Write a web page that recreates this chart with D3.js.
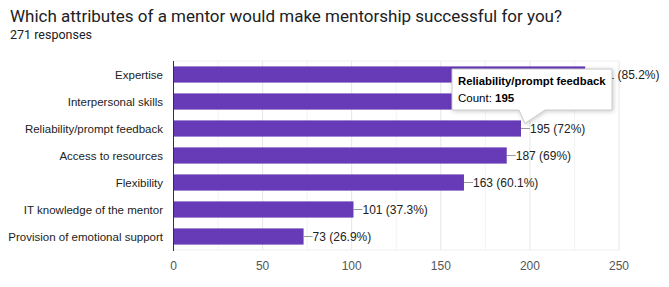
<!DOCTYPE html>
<html lang="en">
<head>
<meta charset="UTF-8">
<title>mentor attributes</title>
<style>
  body { margin: 0; background: #fff; }
  text { font-family: "Liberation Sans", Arial, sans-serif; }
  .title { font-family: Roboto, sans-serif; }
</style>
</head>
<body>
<svg id="chart" width="669" height="287"></svg>
<script src="https://cdn.jsdelivr.net/npm/d3@7"></script>
<script>
const categories = ["Expertise", "Interpersonal skills", "Reliability/prompt feedback",
  "Access to resources", "Flexibility", "IT knowledge of the mentor", "Provision of emotional support"];
const counts = [231, 200, 195, 187, 163, 101, 73];
const percents = ["85.2%", "73.8%", "72%", "69%", "60.1%", "37.3%", "26.9%"];
const xTicks = [0, 50, 100, 150, 200, 250];
const total = 271;

const svg = d3.select("#chart");

svg.append("text").attr("class", "title").attr("x", 10).attr("y", 22)
  .attr("font-size", 17).attr("fill", "#202124")
  .text("Which attributes of a mentor would make mentorship successful for you?");
svg.append("text").attr("class", "title").attr("x", 10).attr("y", 39)
  .attr("font-size", 12.5).attr("fill", "#202124")
  .text(total + " responses");

const x = d3.scaleLinear().domain([0, 250]).range([173.5, 619]);
const y = d3.scaleBand().domain(categories).range([61, 250])
  .paddingInner(0.4).paddingOuter(0.2);

// grid: minor every 25, major every 50
const grid = svg.append("g");
grid.selectAll("line.minor").data(d3.range(25, 250, 50)).join("line")
  .attr("x1", d => x(d)).attr("x2", d => x(d))
  .attr("y1", 61).attr("y2", 250).attr("stroke", "#f3f3f3");
grid.selectAll("line.major").data(xTicks.slice(1)).join("line")
  .attr("x1", d => x(d)).attr("x2", d => x(d))
  .attr("y1", 61).attr("y2", 250).attr("stroke", "#e6e6e6");
grid.append("line").attr("x1", x(0)).attr("x2", x(250))
  .attr("y1", 61).attr("y2", 61).attr("stroke", "#f0f0f0");
grid.append("line").attr("x1", x(0)).attr("x2", x(250))
  .attr("y1", 250).attr("y2", 250).attr("stroke", "#f0f0f0");

// bars
svg.selectAll("rect.bar").data(counts).join("rect")
  .attr("class", "bar")
  .attr("x", x(0))
  .attr("y", (d, i) => y(categories[i]))
  .attr("width", d => x(d) - x(0))
  .attr("height", y.bandwidth())
  .attr("fill", "#673ab7");

// axis line
svg.append("line").attr("x1", x(0)).attr("x2", x(0))
  .attr("y1", 61).attr("y2", 251).attr("stroke", "#333").attr("stroke-width", 1);

// category labels
svg.selectAll("text.cat").data(categories).join("text")
  .attr("x", 163).attr("y", d => y(d) + y.bandwidth() / 2 + 4)
  .attr("text-anchor", "end").attr("font-size", 11.5).attr("fill", "#222")
  .text(d => d);

// value labels
const lab = svg.append("g");
counts.forEach((d, i) => {
  const cy = y(categories[i]) + y.bandwidth() / 2;
  lab.append("line").attr("x1", x(d)).attr("x2", x(d) + 9)
    .attr("y1", cy).attr("y2", cy).attr("stroke", "#999");
  lab.append("text").attr("x", x(d) + 9).attr("y", cy + 4.5)
    .attr("font-size", 12).attr("fill", "#222")
    .text(d + " (" + percents[i] + ")");
});

// x tick labels
svg.selectAll("text.tick").data(xTicks).join("text")
  .attr("x", d => x(d)).attr("y", 270)
  .attr("text-anchor", "middle").attr("font-size", 12).attr("fill", "#555")
  .text(d => d);

// tooltip on Reliability/prompt feedback
const ti = 2;
const tipX = 452, tipY = 69, tipW = 160, tipH = 41;
const tx = x(counts[ti]);
const tipTop = y(categories[ti]) + 1;
const tip = svg.append("g");
tip.append("path")
  .attr("d", `M${tipX},${tipY}H${tipX + tipW}V${tipY + tipH}H${tx + 24}L${tx + 4},${tipTop + 2}L${tx - 2},${tipY + tipH}H${tipX}Z`)
  .attr("fill", "#fff").attr("stroke", "#ccc").attr("stroke-width", 1)
  .style("filter", "drop-shadow(1px 1px 2px rgba(0,0,0,0.2))");
tip.append("text").attr("x", tipX + 6).attr("y", tipY + 16)
  .attr("font-size", 11.3).attr("font-weight", "bold").attr("fill", "#000")
  .text(categories[ti]);
const t2 = tip.append("text").attr("x", tipX + 6).attr("y", tipY + 33)
  .attr("font-size", 11.5).attr("fill", "#000");
t2.append("tspan").text("Count: ");
t2.append("tspan").attr("font-weight", "bold").text(counts[ti]);
</script>
</body>
</html>
